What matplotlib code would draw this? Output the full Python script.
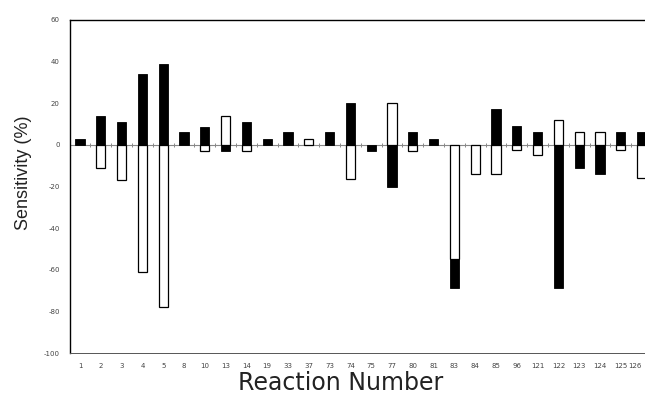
import matplotlib
import numpy as np
from matplotlib import pyplot as plt

matplotlib.use('Agg')

# Reaction numbers (x categories)
reactions = ['1', '2', '3', '4', '5', '8', '10', '13', '14', '19', '33', '37', '73', '74',
             '75', '77', '80', '81', '83', '84', '85', '96', '121', '122', '123', '124', '125', '126']

# Sensitivity (%) - filled bars
black_values = [3, 14, 11, 34, 39, 6, 8.5, -3, 11, 3, 6, 0, 6, 20,
                -3, -20, 6, 3, -69, 0, 17, 9, 6, -69, -11, -14, 6, 6]

# Sensitivity (%) - open bars
white_values = [0, -11, -17, -61, -78, 0, -3, 14, -3, 0, 0, 3, 0, -16.5,
                0, 20, -3, 0, -55, -14, -14, -2.5, -5, 12, 6, 6, -2.5, -16]

y_ticks = [60, 40, 20, 0, -20, -40, -60, -80, -100]

plt.rcParams['font.family'] = 'DejaVu Sans'

fig = plt.figure(figsize=(6.45, 3.97), dpi=100)
# axes run past the right edge, as in the cropped scan
ax = fig.add_axes([69.6 / 645, 44 / 397, 582.4 / 645, 333 / 397])

x = np.arange(len(reactions))
width = 0.45

# filled bars first, open bars on top
ax.bar(x, black_values, width, color='black', edgecolor='black', linewidth=0.6, zorder=2)
mask = np.array(white_values) != 0
ax.bar(x[mask], np.array(white_values)[mask], width, color='white', edgecolor='black',
       linewidth=0.9, zorder=3)

# zero line with small ticks between categories
ax.axhline(0, color='#888888', linewidth=0.8, zorder=1)
ax.plot(x[:-1] + 0.5, np.zeros(len(x) - 1), linestyle='none', marker='|', markersize=3,
        color='#888888', markeredgewidth=0.7, zorder=1)

ax.set_xlim(-0.5, len(reactions) - 0.5)
ax.set_ylim(-100, 60)
ax.set_yticks(y_ticks)
ax.set_yticklabels([str(v) for v in y_ticks])
ax.set_xticks(x)
ax.set_xticklabels(reactions)
ax.tick_params(axis='both', length=0, labelsize=5, labelcolor='#444444')
ax.tick_params(axis='y', pad=7)
ax.tick_params(axis='x', pad=7)
# last label sits at the cropped edge, keep it inside the picture
ax.get_xticklabels()[-1].set_horizontalalignment('right')

for side in ['left', 'top', 'right']:
    ax.spines[side].set_linewidth(1.0)
ax.spines['bottom'].set_linewidth(0.7)
ax.spines['bottom'].set_color('#555555')

ax.set_xlabel('Reaction Number', fontsize=17, color='#222222')
ax.xaxis.set_label_coords(0.466, -0.055)
ax.set_ylabel('Sensitivity (%)', fontsize=13, family='Liberation Sans', color='#222222')
ax.yaxis.set_label_coords(-0.064, 0.54)

fig.savefig('out.png', dpi=100)
plt.close(fig)
